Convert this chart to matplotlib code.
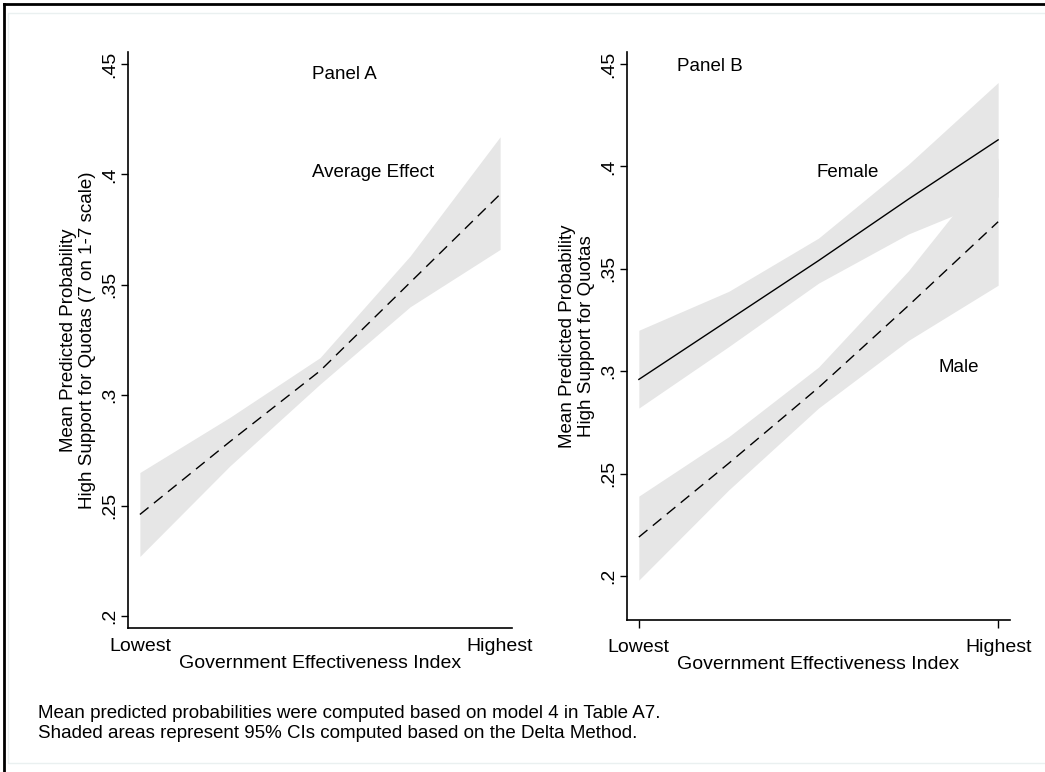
import numpy as np
import matplotlib
matplotlib.use('Agg')
import matplotlib.pyplot as plt
from matplotlib.patches import Rectangle
from matplotlib.lines import Line2D

plt.rcParams['font.family'] = ['Liberation Sans', 'DejaVu Sans']
plt.rcParams['font.size'] = 13.5

# government effectiveness index (0 = lowest, 1 = highest)
gov_eff = [0.0, 0.25, 0.5, 0.75, 1.0]

# Panel A: average effect
avg_mean = [0.246, 0.279, 0.311, 0.351, 0.391]
avg_lo = [0.227, 0.268, 0.305, 0.340, 0.366]
avg_hi = [0.265, 0.290, 0.317, 0.363, 0.417]

# Panel B: by gender
fem_mean = [0.296, 0.325, 0.354, 0.384, 0.413]
fem_lo = [0.282, 0.312, 0.343, 0.367, 0.385]
fem_hi = [0.320, 0.339, 0.365, 0.401, 0.441]
male_mean = [0.219, 0.255, 0.292, 0.332, 0.373]
male_lo = [0.198, 0.242, 0.282, 0.315, 0.342]
male_hi = [0.239, 0.268, 0.302, 0.349, 0.404]

yticks = [0.2, 0.25, 0.3, 0.35, 0.4, 0.45]
ytick_labels = ['.2', '.25', '.3', '.35', '.4', '.45']
xtick_labels = ['Lowest', 'Highest']

band_col = '#e6e6e6'

fig = plt.figure(figsize=(10.45, 7.72), dpi=100)

# outer frame lines and graph region
fig.add_artist(Line2D([4 / 1045, 1], [1 - 4 / 772, 1 - 4 / 772], color='black', lw=2))
fig.add_artist(Line2D([4 / 1045, 4 / 1045], [0, 1 - 4 / 772], color='black', lw=2))
fig.add_artist(Rectangle((8 / 1045, 9 / 772), 1.0, 1 - 22 / 772, fill=False,
                         edgecolor='#eaf0f0', lw=1))


def style_axis(ax, ylo, yhi, xtick_len, xpad):
    ax.set_xlim(-0.033, 1.033)
    ax.set_ylim(ylo, yhi)
    ax.spines['top'].set_visible(False)
    ax.spines['right'].set_visible(False)
    ax.spines['left'].set_linewidth(1.2)
    ax.spines['bottom'].set_linewidth(1.2)
    ax.set_yticks(yticks)
    ax.set_yticklabels(ytick_labels, rotation=90, va='center')
    ax.set_xticks([0, 1])
    ax.set_xticklabels(xtick_labels)
    ax.tick_params(axis='y', length=5, width=1, pad=2, labelsize=14)
    ax.tick_params(axis='x', length=xtick_len, width=1, pad=xpad, labelsize=14)
    ax.set_xlabel('Government Effectiveness Index', fontsize=14, labelpad=0)


# Panel A
axA = fig.add_axes([128 / 1045, 144 / 772, 384 / 1045, 576 / 772])
axA.fill_between(gov_eff, avg_lo, avg_hi, color=band_col, lw=0)
axA.plot(gov_eff, avg_mean, color='black', lw=1, dashes=(8, 5))
style_axis(axA, 0.1946, 0.4554, 0, 7.5)
axA.set_ylabel('Mean Predicted Probability\nHigh Support for Quotas (7 on 1-7 scale)',
               fontsize=13.5, labelpad=4, linespacing=1.15)
axA.text(0.569, 0.445, 'Panel A', ha='center', va='center', fontsize=13.5)
axA.text(0.647, 0.401, 'Average Effect', ha='center', va='center', fontsize=13.5)

# Panel B
axB = fig.add_axes([627 / 1045, 152 / 772, 383 / 1045, 568 / 772])
axB.fill_between(gov_eff, fem_lo, fem_hi, color=band_col, lw=0)
axB.fill_between(gov_eff, male_lo, male_hi, color=band_col, lw=0)
axB.plot(gov_eff, fem_mean, color='black', lw=1)
axB.plot(gov_eff, male_mean, color='black', lw=1, dashes=(8, 5))
style_axis(axB, 0.1785, 0.4559, 6, 7.7)
axB.set_ylabel('Mean Predicted Probability\nHigh Support for Quotas',
               fontsize=13.5, labelpad=4, linespacing=1.15)
axB.text(0.198, 0.449, 'Panel B', ha='center', va='center', fontsize=13.5)
axB.text(0.582, 0.397, 'Female', ha='center', va='center', fontsize=13.5)
axB.text(0.889, 0.302, 'Male', ha='center', va='center', fontsize=13.5)

fig.text(38 / 1045, 1 - 714 / 772,
         'Mean predicted probabilities were computed based on model 4 in Table A7.',
         ha='left', va='center', fontsize=13.5)
fig.text(38 / 1045, 1 - 733 / 772,
         'Shaded areas represent 95% CIs computed based on the Delta Method.',
         ha='left', va='center', fontsize=13.5)

fig.savefig('out.png', dpi=100)
